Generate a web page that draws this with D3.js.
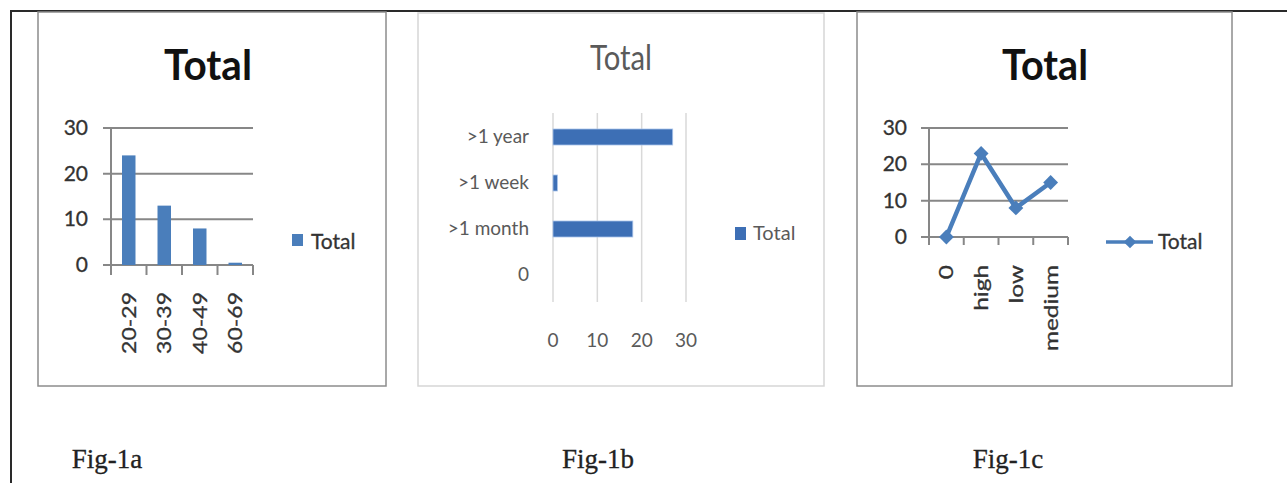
<!DOCTYPE html>
<html>
<head>
<meta charset="utf-8">
<script src="https://cdn.jsdelivr.net/npm/d3@7/dist/d3.min.js"></script>
<style>
  html, body { margin: 0; padding: 0; background: #fff; }
  svg { display: block; }
</style>
</head>
<body>
<script>
// ---- data ----
const ageGroups = ["20-29", "30-39", "40-49", "60-69"];
const ageTotals = [24, 13, 8, 0.5];

const durationCats = [">1 year", ">1 week", ">1 month", "0"];
const durationTotals = [27, 1, 18, 0];

const levelCats = ["0", "high", "low", "medium"];
const levelTotals = [0, 23, 8, 15];

const valueTicks = [0, 10, 20, 30];
const seriesName = "Total";
const figLabels = ["Fig-1a", "Fig-1b", "Fig-1c"];

// ---- setup ----
const W = 1287, H = 483;
const svg = d3.select("body").append("svg").attr("width", W).attr("height", H);
svg.append("rect").attr("width", W).attr("height", H).attr("fill", "#fff");

const sans = "Lato, 'Open Sans', sans-serif";
const serif = "'Liberation Serif', 'DejaVu Serif', serif";
const axisGray = "#878787";
const labelDark = "#333";
const barBlue = "#4a7ebb";
const barBlueB = "#3d6fb5";

// table border around the figure row
svg.append("line").attr("x1", 10).attr("x2", W).attr("y1", 11).attr("y2", 11)
  .attr("stroke", "#2a2a2a").attr("stroke-width", 2);
svg.append("line").attr("x1", 11).attr("x2", 11).attr("y1", 10).attr("y2", H)
  .attr("stroke", "#2a2a2a").attr("stroke-width", 2);

// chart frames
const frames = [
  { x: 38, y: 12, w: 348, h: 374, c: "#8c8c8c" },
  { x: 418, y: 13, w: 406, h: 373, c: "#d6d6d6" },
  { x: 857, y: 12, w: 375, h: 374, c: "#8c8c8c" }
];
svg.selectAll("rect.frame").data(frames).enter().append("rect")
  .attr("class", "frame")
  .attr("x", d => d.x).attr("y", d => d.y).attr("width", d => d.w).attr("height", d => d.h)
  .attr("fill", "none").attr("stroke", d => d.c).attr("stroke-width", 1.5);

// captions
const capX = [107, 598, 1008];
svg.selectAll("text.cap").data(figLabels).enter().append("text")
  .attr("class", "cap")
  .attr("x", (d, i) => capX[i]).attr("y", 468)
  .attr("text-anchor", "middle")
  .attr("font-family", serif).attr("font-size", 27).attr("fill", "#222")
  .attr("stroke", "#222").attr("stroke-width", 0.3)
  .text(d => d);

// ---------- Fig-1a: column chart ----------
{
  const g = svg.append("g");
  const x = d3.scaleBand().domain(ageGroups).range([111, 253]);
  const y = d3.scaleLinear().domain([0, 30]).range([265, 128]);

  g.append("text").attr("x", 208).attr("y", 80).attr("text-anchor", "middle")
    .attr("font-family", sans).attr("font-weight", 700).attr("font-size", 42)
    .attr("textLength", 88).attr("lengthAdjust", "spacingAndGlyphs")
    .attr("fill", "#111").text(seriesName);

  // gridlines (extend left to form the tick marks)
  g.selectAll("line.grid").data(valueTicks).enter().append("line")
    .attr("x1", 103).attr("x2", 253).attr("y1", d => y(d)).attr("y2", d => y(d))
    .attr("stroke", axisGray).attr("stroke-width", 2);

  // axes
  g.append("line").attr("x1", 111).attr("x2", 111).attr("y1", y(30)).attr("y2", 275)
    .attr("stroke", axisGray).attr("stroke-width", 2);
  const bounds = ageGroups.map(c => x(c)).concat([x.range()[1]]);
  g.selectAll("line.xt").data(bounds.slice(1)).enter().append("line")
    .attr("x1", d => d).attr("x2", d => d).attr("y1", y(0)).attr("y2", 275)
    .attr("stroke", axisGray).attr("stroke-width", 2);

  g.selectAll("text.yl").data(valueTicks).enter().append("text")
    .attr("x", 88).attr("y", d => y(d) + 7).attr("text-anchor", "end")
    .attr("font-family", sans).attr("font-size", 21).attr("fill", labelDark)
    .attr("stroke", labelDark).attr("stroke-width", 0.3)
    .text(d => d);

  const bw = x.bandwidth() * 0.38;
  g.selectAll("rect.bar").data(ageTotals).enter().append("rect")
    .attr("x", (d, i) => x(ageGroups[i]) + x.bandwidth() / 2 - bw / 2)
    .attr("width", bw)
    .attr("y", d => y(d)).attr("height", d => y(0) - y(d))
    .attr("fill", barBlue);

  g.selectAll("text.xl").data(ageGroups).enter().append("text")
    .attr("transform", d => `translate(${x(d) + x.bandwidth() / 2 + 7},${292}) rotate(-90) scale(1.15,1)`)
    .attr("text-anchor", "end")
    .attr("font-family", sans).attr("font-size", 20).attr("fill", labelDark)
    .attr("stroke", labelDark).attr("stroke-width", 0.3)
    .text(d => d);

  // legend
  g.append("rect").attr("x", 292).attr("y", 234).attr("width", 11).attr("height", 12).attr("fill", barBlue);
  g.append("text").attr("x", 311).attr("y", 249)
    .attr("font-family", sans).attr("font-size", 21).attr("fill", labelDark)
    .attr("stroke", labelDark).attr("stroke-width", 0.3).text(seriesName);
}

// ---------- Fig-1b: horizontal bar chart ----------
{
  const g = svg.append("g");
  const x = d3.scaleLinear().domain([0, 30]).range([553, 686]);
  const y = d3.scaleBand().domain(durationCats).range([114, 298]);
  const gray = "#5a5a5a";

  g.append("text").attr("x", 621).attr("y", 70).attr("text-anchor", "middle")
    .attr("font-family", sans).attr("font-size", 34)
    .attr("textLength", 62).attr("lengthAdjust", "spacingAndGlyphs")
    .attr("fill", gray).text(seriesName);

  g.selectAll("line.grid").data(valueTicks).enter().append("line")
    .attr("x1", d => x(d)).attr("x2", d => x(d)).attr("y1", 113).attr("y2", 302)
    .attr("stroke", "#d9d9d9").attr("stroke-width", 1.5);

  const bh = 16;
  g.selectAll("rect.bar").data(durationTotals).enter().append("rect")
    .attr("x", x(0))
    .attr("y", (d, i) => y(durationCats[i]) + y.bandwidth() / 2 - bh / 2)
    .attr("width", d => x(d) - x(0)).attr("height", bh)
    .attr("fill", barBlueB).attr("stroke", d => d > 0 ? "#a9c4ea" : "none").attr("stroke-width", 0.8);

  g.selectAll("text.yl").data(durationCats).enter().append("text")
    .attr("x", 529).attr("y", d => y(d) + y.bandwidth() / 2 + 6).attr("text-anchor", "end")
    .attr("font-family", sans).attr("font-size", 19).attr("fill", gray)
    .text(d => d);

  g.selectAll("text.xl").data(valueTicks).enter().append("text")
    .attr("x", d => x(d)).attr("y", 347).attr("text-anchor", "middle")
    .attr("font-family", sans).attr("font-size", 19).attr("fill", gray)
    .text(d => d);

  g.append("rect").attr("x", 735).attr("y", 227).attr("width", 11).attr("height", 13).attr("fill", barBlueB);
  g.append("text").attr("x", 753).attr("y", 240)
    .attr("font-family", sans).attr("font-size", 20).attr("fill", gray).text(seriesName);
}

// ---------- Fig-1c: line chart ----------
{
  const g = svg.append("g");
  const x = d3.scaleBand().domain(levelCats).range([929, 1068]);
  const y = d3.scaleLinear().domain([0, 30]).range([237, 128]);
  const lineBlue = "#4a7ebb";

  g.append("text").attr("x", 1045).attr("y", 80).attr("text-anchor", "middle")
    .attr("font-family", sans).attr("font-weight", 700).attr("font-size", 42)
    .attr("textLength", 86).attr("lengthAdjust", "spacingAndGlyphs")
    .attr("fill", "#111").text(seriesName);

  g.selectAll("line.grid").data(valueTicks).enter().append("line")
    .attr("x1", 921).attr("x2", 1068).attr("y1", d => y(d)).attr("y2", d => y(d))
    .attr("stroke", axisGray).attr("stroke-width", 2);

  g.append("line").attr("x1", 929).attr("x2", 929).attr("y1", y(30)).attr("y2", 245)
    .attr("stroke", axisGray).attr("stroke-width", 2);
  const bounds = levelCats.map(c => x(c)).concat([x.range()[1]]);
  g.selectAll("line.xt").data(bounds.slice(1)).enter().append("line")
    .attr("x1", d => d).attr("x2", d => d).attr("y1", y(0)).attr("y2", 245)
    .attr("stroke", axisGray).attr("stroke-width", 2);

  g.selectAll("text.yl").data(valueTicks).enter().append("text")
    .attr("x", 907).attr("y", d => y(d) + 7).attr("text-anchor", "end")
    .attr("font-family", sans).attr("font-size", 21).attr("fill", labelDark)
    .attr("stroke", labelDark).attr("stroke-width", 0.3)
    .text(d => d);

  const pts = levelTotals.map((v, i) => [x(levelCats[i]) + x.bandwidth() / 2, y(v)]);
  g.append("path").attr("d", d3.line()(pts))
    .attr("fill", "none").attr("stroke", lineBlue).attr("stroke-width", 4.5)
    .attr("stroke-linejoin", "round");

  const diamond = d3.symbol().type(d3.symbolSquare).size(110);
  g.selectAll("path.mk").data(pts).enter().append("path")
    .attr("d", diamond)
    .attr("transform", d => `translate(${d[0]},${d[1]}) rotate(45)`)
    .attr("fill", lineBlue);

  g.selectAll("text.xl").data(levelCats).enter().append("text")
    .attr("transform", d => `translate(${x(d) + x.bandwidth() / 2 + 7},${265}) rotate(-90) scale(1.22,1)`)
    .attr("text-anchor", "end")
    .attr("font-family", sans).attr("font-size", 20).attr("fill", labelDark)
    .attr("stroke", labelDark).attr("stroke-width", 0.3)
    .text(d => d);

  g.append("line").attr("x1", 1106).attr("x2", 1153).attr("y1", 242).attr("y2", 242)
    .attr("stroke", lineBlue).attr("stroke-width", 3.5);
  g.append("path").attr("d", d3.symbol().type(d3.symbolSquare).size(80))
    .attr("transform", "translate(1130,242) rotate(45)").attr("fill", lineBlue);
  g.append("text").attr("x", 1158).attr("y", 249)
    .attr("font-family", sans).attr("font-size", 21).attr("fill", labelDark)
    .attr("stroke", labelDark).attr("stroke-width", 0.3).text(seriesName);
}
</script>
</body>
</html>
